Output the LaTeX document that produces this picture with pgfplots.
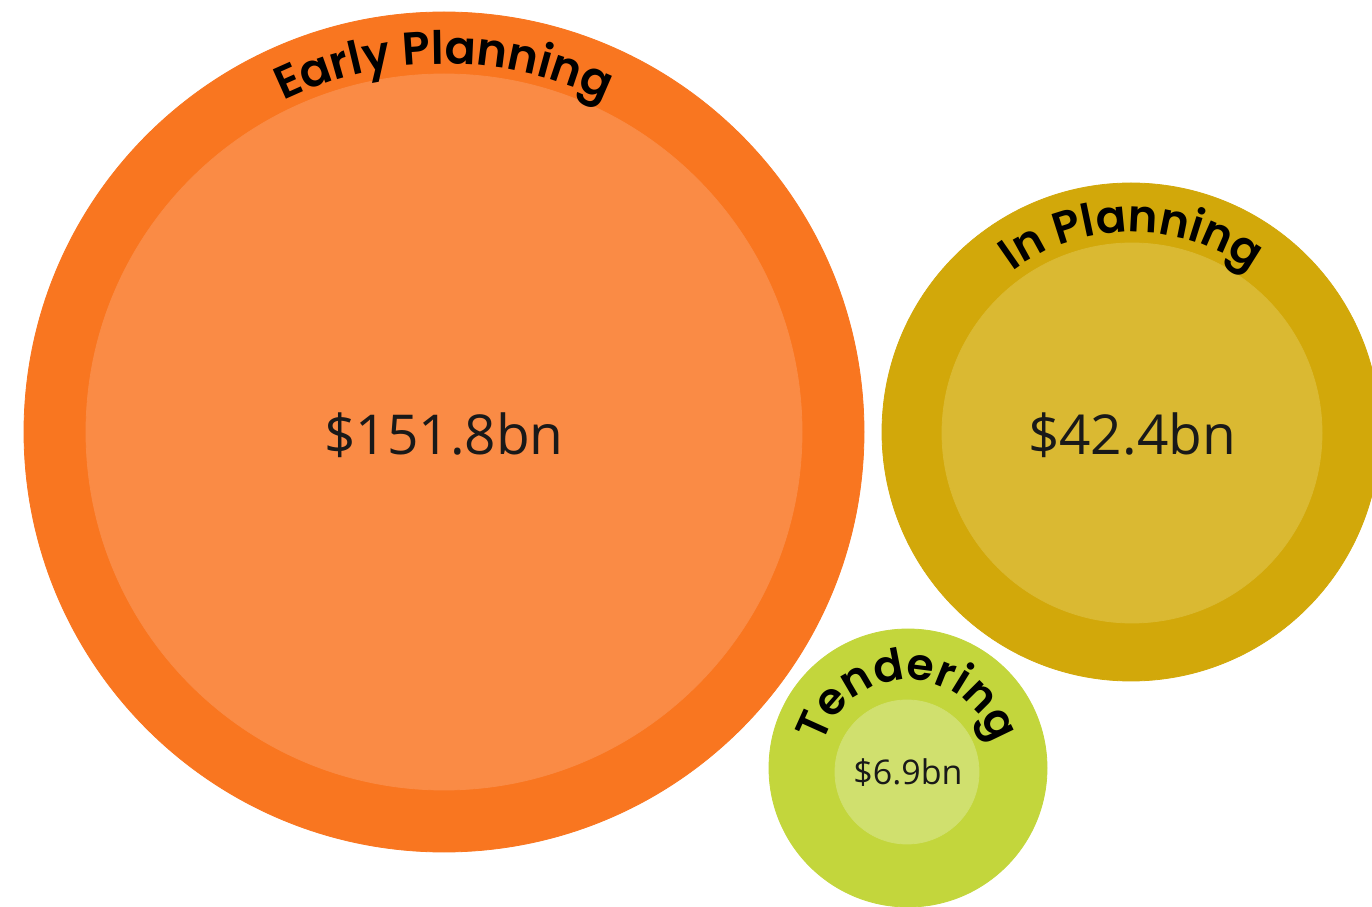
\documentclass[border=0pt]{standalone}
\usepackage{pgfplots}
\usepackage{pgfplotstable}
\pgfplotsset{compat=1.18}
\usepackage{fontspec}
\setmainfont{Open Sans}
\newfontfamily\labelfont{Poppins}[BoldFont={Poppins SemiBold}]
\usetikzlibrary{decorations.text}
\definecolor{eo}{HTML}{F97620}
\definecolor{ei}{HTML}{FA8B45}
\definecolor{io}{HTML}{D2A80A}
\definecolor{ii}{HTML}{DAB932}
\definecolor{to}{HTML}{C3D63C}
\definecolor{ti}{HTML}{D0E06E}
\pgfplotstableread{
x y r cls
444 474 420 eo
1131 474 249 io
908 138 139 to
}\outerT
\pgfplotstableread{
x y r cls
444 474 358 ei
1132 473 190 ii
907 134 72 ti
}\innerT
\begin{document}
\begin{tikzpicture}
\begin{axis}[
  x=0.5pt, y=0.5pt,
  xmin=0, xmax=1372, ymin=0, ymax=906,
  hide axis, clip=true, clip marker paths=true,
  scatter, only marks, mark=*,
  point meta=explicit symbolic,
  scatter/classes={
    eo={mark=*, eo},
    io={mark=*, io},
    to={mark=*, to},
    ei={mark=*, ei},
    ii={mark=*, ii},
    ti={mark=*, ti}},
  visualization depends on={0.5*\thisrow{r} \as \rr},
  scatter/@pre marker code/.append style={/tikz/mark size=\rr},
]
\fill[white] (rel axis cs:0,0) rectangle (rel axis cs:1,1);
\addplot table[x=x, y=y, meta=cls] {\outerT};
\addplot table[x=x, y=y, meta=cls] {\innerT};
% values
\node[font=\fontsize{27.5}{32}\selectfont, text=black!90] at (axis cs:444,471) {\$151.8bn};
\node[font=\fontsize{27.5}{32}\selectfont, text=black!90] at (axis cs:1132,471) {\$42.4bn};
\node[font=\fontsize{17}{20}\selectfont, text=black!90] at (axis cs:908,133) {\$6.9bn};
% curved labels
\path[decorate, decoration={text along path, text align=center,
  text={|\labelfont\bfseries\fontsize{23}{28}\selectfont|Early Planning}}]
  (axis cs:444,474) ++(170:184pt) arc[start angle=170, end angle=10, radius=184pt];
\path[decorate, decoration={text along path, text align=center,
  text={|\labelfont\bfseries\fontsize{22.5}{28}\selectfont|In Planning}}]
  (axis cs:1132,474) ++(170:100pt) arc[start angle=170, end angle=10, radius=100pt];
\path[decorate, decoration={text along path, text align=center,
  text={|\labelfont\bfseries\fontsize{22}{26}\selectfont|Tendering}}]
  (axis cs:908,138) ++(178:44pt) arc[start angle=178, end angle=2, radius=44pt];
\end{axis}
\end{tikzpicture}
\end{document}
